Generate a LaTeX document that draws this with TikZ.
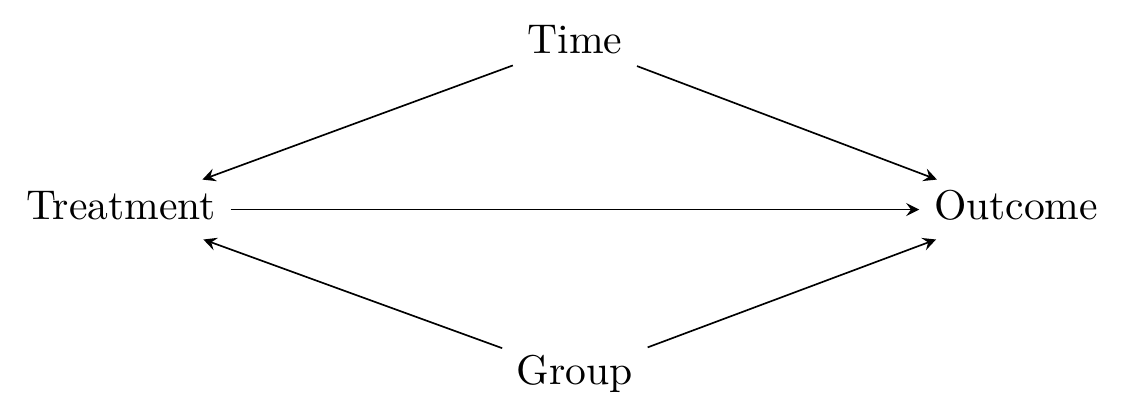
\documentclass[tikz,border=0pt]{standalone}
\begin{document}
\begin{tikzpicture}[>=stealth,
    var/.style={inner ysep=3pt, text height=6.5pt, text depth=1.5pt}]
  \useasboundingbox (-1.022, -1.777) rectangle (8.497, 1.770);

  \node[var] (treat) at (0, 0) {Treatment};
  \node[var] (out) at (7.56, 0) {Outcome};
  \node[var] (time) at (3.834, 1.41) {Time};
  \node[var] (group) at (3.834, -1.394) {Group};

  \draw[->] (time) -- (treat);
  \draw[->] (time) -- (out);
  \draw[->] (treat) -- (out);
  \draw[->] (group) -- (treat);
  \draw[->] (group) -- (out);
\end{tikzpicture}
\end{document}
